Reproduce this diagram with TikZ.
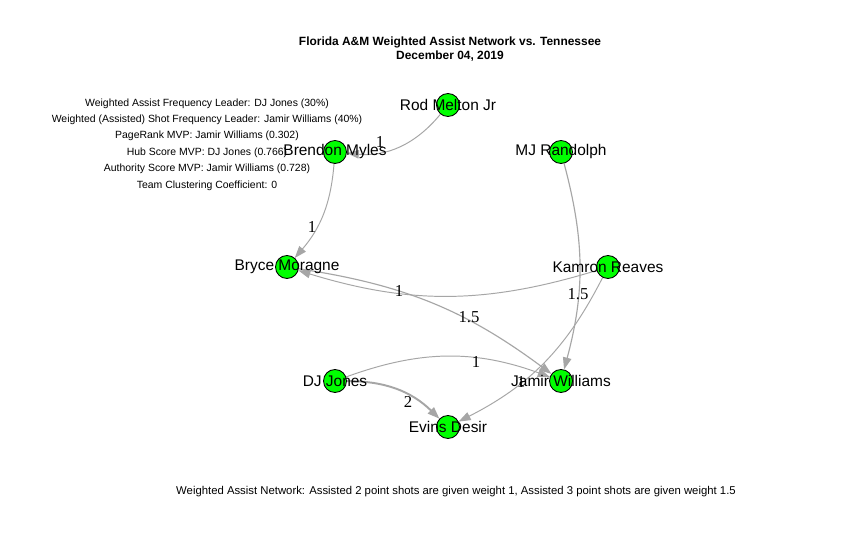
\documentclass[tikz,border=0pt]{standalone}
\usepackage{fontspec}
\setmainfont{Liberation Sans}
\newfontfamily\wtfont{Liberation Serif}
\usetikzlibrary{arrows.meta,backgrounds}
\definecolor{edgegrey}{RGB}{166,166,166}
\begin{document}
\begin{tikzpicture}[x=0.02cm,y=-0.02cm,
		player/.style={circle,draw=black,fill=green,inner sep=0pt,minimum size=0.46cm,line width=0.5pt},
		pname/.style={font=\fontsize{8.8}{10}\selectfont},
		assist/.style={edgegrey,line width=0.55pt,-{Triangle[length=0.24cm,width=0.17cm]}},
		wlab/.style={font=\wtfont\fontsize{9.5}{11}\selectfont,inner sep=0pt},
		info/.style={font=\fontsize{5.95}{7}\selectfont,inner sep=0pt}]
	\useasboundingbox (0,0) rectangle (860,550);
	% title
	\node[font=\bfseries\fontsize{6.8}{8}\selectfont,align=center](title) at (450,49){Florida A\&M Weighted Assist Network vs. Tennessee\\December 04, 2019};
	% players
	\node[player,label={[pname]center:Rod Melton Jr}](rod) at (448,105){};
	\node[player,label={[pname]center:Brendon Myles}](brendon) at (335,152){};
	\node[player,label={[pname]center:MJ Randolph}](mj) at (561,152){};
	\node[player,label={[pname]center:Bryce Moragne}](bryce) at (287,267){};
	\node[player,label={[pname]center:Kamron Reaves}](kamron) at (608,267){};
	\node[player,label={[pname]center:DJ Jones}](dj) at (335,381){};
	\node[player,label={[pname]center:Jamir Williams}](jamir) at (561,381){};
	\node[player,label={[pname]center:Evins Desir}](evins) at (448,427){};
	% assists
	\begin{scope}[on background layer]
		\fill[white](0,0) rectangle (860,550);
		\draw[assist](rod) to[bend left=28] (brendon);
		\draw[assist](brendon) to[bend left=18] (bryce);
		\draw[assist,line width=0.65pt](bryce) to[bend left=14] (jamir);
		\draw[assist](kamron) to[bend left=17] (bryce);
		\draw[assist,line width=0.65pt](mj) to[bend left=15] (jamir);
		\draw[assist](kamron) to[bend left=18] (evins);
		\draw[assist](dj) to[bend left=20] (jamir);
		\draw[assist,line width=1.1pt](dj) to[bend left=22] (evins);
	\end{scope}
	% weights
	\node[wlab](w1) at (380,142){1};
	\node[wlab](w2) at (312,227){1};
	\node[wlab](w3) at (469,317){1.5};
	\node[wlab](w4) at (399,291){1};
	\node[wlab](w5) at (578,294){1.5};
	\node[wlab](w6) at (521,382){1};
	\node[wlab](w7) at (476,362){1};
	\node[wlab](w8) at (408,402){2};
	% leaders
	\node[info](i1) at (207,104){Weighted Assist Frequency Leader: DJ Jones (30\%)};
	\node[info](i2) at (207,120){Weighted (Assisted) Shot Frequency Leader: Jamir Williams (40\%)};
	\node[info](i3) at (207,136){PageRank MVP: Jamir Williams (0.302)};
	\node[info](i4) at (207,153){Hub Score MVP: DJ Jones (0.766)};
	\node[info](i5) at (207,169){Authority Score MVP: Jamir Williams (0.728)};
	\node[info](i6) at (207,186){Team Clustering Coefficient: 0};
	\node[info,font=\fontsize{6.45}{7.5}\selectfont](note) at (456,492){Weighted Assist Network: Assisted 2 point shots are given weight 1, Assisted 3 point shots are given weight 1.5};
\end{tikzpicture}
\end{document}
